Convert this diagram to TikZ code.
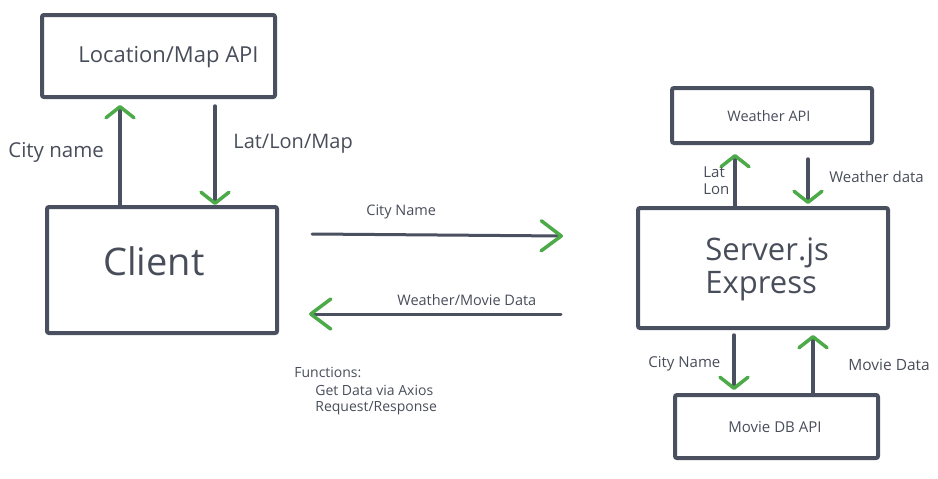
\documentclass[tikz,border=0pt]{standalone}
\usepackage{fontspec}
\setmainfont{Open Sans}
\usetikzlibrary{arrows.meta}

\definecolor{linegray}{RGB}{74,80,95}
\definecolor{textgray}{RGB}{72,77,90}
\definecolor{arrowgreen}{RGB}{76,170,72}

\tikzset{every picture/.style={line width=0.75pt}}
\tikzset{
  box/.style={draw=linegray, line width=4pt, rounded corners=2pt, inner sep=0pt},
  flow/.style={draw=linegray, line width=3.5pt, line cap=round,
    -{Straight Barb[color=arrowgreen, length=11pt, width=28pt, line width=3.5pt, round]}},
  longflow/.style={draw=linegray, line width=3pt, line cap=round,
    -{Straight Barb[color=arrowgreen, length=20pt, width=30pt, line width=3.5pt, round]}},
  lbl/.style={text=textgray, inner sep=0pt, anchor=base west},
}

\begin{document}
\begin{tikzpicture}[x=1pt,y=1pt,yscale=-1,xscale=1]
\path[use as bounding box] (0,0) rectangle (938,479);

%Boxes
\node[box, minimum width=233pt, minimum height=82pt] (mapapi) at (158.5,56) {};
\node[box, minimum width=230pt, minimum height=126pt] (client) at (162,270) {};
\node[box, minimum width=200pt, minimum height=55pt] (weather) at (772,115.5) {};
\node[box, minimum width=250pt, minimum height=120pt] (server) at (763,268) {};
\node[box, minimum width=203pt, minimum height=63pt] (moviedb) at (776.5,426.5) {};

%Client <-> Location/Map API
\draw[flow, shorten >=6pt] ([xshift=-42pt]client.north) -- ([xshift=-38.5pt]mapapi.south);
\draw[flow, shorten <=7pt] ([xshift=56.5pt]mapapi.south) -- ([xshift=53pt]client.north);

%Client <-> Server
\draw[longflow] ([shift={(33,-36)}]client.east) -- ([shift={(-73,-32)}]server.west);
\draw[longflow] ([shift={(-75,46)}]server.west) -- ([shift={(30,44)}]client.east);

%Server <-> Weather API
\draw[flow, shorten >=9pt] ([xshift=-28pt]server.north) -- ([xshift=-37pt]weather.south);
\draw[flow, shorten <=14pt, shorten >=2pt] ([xshift=36pt]weather.south) -- ([xshift=45pt]server.north);

%Server <-> Movie DB API
\draw[flow, shorten <=5pt, shorten >=3pt] ([xshift=-29pt]server.south) -- ([xshift=-42.5pt]moviedb.north);
\draw[flow, shorten >=5pt] ([xshift=36.5pt]moviedb.north) -- ([xshift=50pt]server.south);

% Text Node
\node[lbl, font=\fontsize{22}{26}\selectfont] (mapapitext) at (78,62) {Location/Map API};
% Text Node
\node[lbl, font=\fontsize{38}{44}\selectfont] (clienttext) at (103,275) {Client};
% Text Node
\node[lbl, font=\fontsize{20.5}{24}\selectfont] (citylbl) at (8,157) {City name};
% Text Node
\node[lbl, font=\fontsize{20}{24}\selectfont] (latlonmaplbl) at (233,148) {Lat/Lon/Map};
% Text Node
\node[lbl, font=\fontsize{14.5}{18}\selectfont] (weathertext) at (727,121) {Weather API};
% Text Node
\node[lbl, font=\fontsize{31}{36}\selectfont] (servertext) at (705,260) {Server.js};
\node[lbl, font=\fontsize{31}{36}\selectfont] (expresstext) at (705,293) {Express};
% Text Node
\node[lbl, font=\fontsize{15}{18}\selectfont] (moviedbtext) at (728,432) {Movie DB API};
% Text Node
\node[lbl, font=\fontsize{15}{18}\selectfont] (latlbl) at (703,177) {Lat};
\node[lbl, font=\fontsize{15}{18}\selectfont] (lonlbl) at (703,194) {Lon};
% Text Node
\node[lbl, font=\fontsize{15}{18}\selectfont] (weatherlbl) at (829,182) {Weather data};
% Text Node
\node[lbl, font=\fontsize{15}{18}\selectfont] (citymovielbl) at (648,367) {City Name};
% Text Node
\node[lbl, font=\fontsize{15.5}{18}\selectfont] (movielbl) at (848,370) {Movie Data};
% Text Node
\node[lbl, font=\fontsize{14.5}{18}\selectfont] (cityserverlbl) at (366,215) {City Name};
% Text Node
\node[lbl, font=\fontsize{14.5}{18}\selectfont] (datalbl) at (397,305) {Weather/Movie Data};
% Text Node
\node[lbl, font=\fontsize{14}{17}\selectfont] (funclbl) at (294,377) {Functions:};
\node[lbl, font=\fontsize{14}{17}\selectfont] (axioslbl) at (315,395) {Get Data via Axios};
\node[lbl, font=\fontsize{14}{17}\selectfont] (reqlbl) at (315,411) {Request/Response};

\end{tikzpicture}
\end{document}
